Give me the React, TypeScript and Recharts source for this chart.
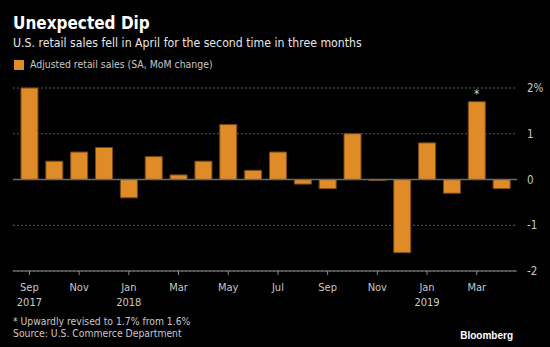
import React from 'react'
import {
  Bar,
  BarChart,
  CartesianGrid,
  LabelList,
  ReferenceLine,
  XAxis,
  YAxis,
} from 'recharts'

// monthly categories, Sep 2017 .. Apr 2019
const months = [
  'Sep', 'Oct', 'Nov', 'Dec', 'Jan', 'Feb', 'Mar', 'Apr', 'May', 'Jun',
  'Jul', 'Aug', 'Sep', 'Oct', 'Nov', 'Dec', 'Jan', 'Feb', 'Mar', 'Apr',
]
const years = [
  '2017', '', '', '', '2018', '', '', '', '', '',
  '', '', '', '', '', '', '2019', '', '', '',
]
// Adjusted retail sales (SA, MoM change), %
const salesChange = [
  2.0, 0.4, 0.6, 0.7, -0.4, 0.5, 0.1, 0.4, 1.2, 0.2,
  0.6, -0.1, -0.2, 1.0, -0.02, -1.6, 0.8, -0.3, 1.7, -0.2,
]
// footnote markers
const notes = ['', '', '', '', '', '', '', '', '', '', '', '', '', '', '', '', '', '', '*', '']
const yTicks = [-2, -1, 0, 1, 2]

const data = months.map((m, i) => ({
  key: `${m}-${i}`,
  month: m,
  year: years[i],
  value: salesChange[i],
  note: notes[i],
}))

const FONT = '"DejaVu Sans Condensed", "Liberation Sans", sans-serif'
const ORANGE = '#df8b27'
const GREY_TEXT = '#c8c8c8'

const MonthTick = (props: any) => {
  const { x, y, payload } = props
  const d = data[payload.index]
  return (
    <g>
      <text x={x} y={y} dy={14} textAnchor='middle' fill={GREY_TEXT} fontSize={11} fontFamily={FONT}>
        {d.month}
      </text>
      {d.year && (
        <text x={x} y={y} dy={29} textAnchor='middle' fill={GREY_TEXT} fontSize={11} fontFamily={FONT}>
          {d.year}
        </text>
      )}
    </g>
  )
}

const ValueTick = (props: any) => {
  const { x, y, payload } = props
  return (
    <text x={x} y={y} dy={4} textAnchor='start' fill={GREY_TEXT} fontSize={11.5} fontFamily={FONT}>
      {payload.value === 2 ? '2%' : payload.value}
    </text>
  )
}

const NoteLabel = (props: any) => {
  const { x, y, width, value } = props
  if (!value) return null
  return (
    <text x={x + width / 2} y={y - 4} textAnchor='middle' fill='#d0d0d0' fontSize={12} fontFamily={FONT}>
      {value}
    </text>
  )
}

const App = () => {
  return (
    <div
      style={{
        position: 'fixed',
        left: 0,
        top: 0,
        width: 550,
        height: 347,
        background: '#000',
        fontFamily: FONT,
        overflow: 'hidden',
      }}
    >
      <BarChart
        width={550}
        height={347}
        data={data}
        margin={{ top: 88, right: 0, left: 13, bottom: 36 }}
        barCategoryGap='16%'
      >
        <CartesianGrid vertical={false} stroke='#5a5a5a' strokeDasharray='2 2' />
        <XAxis
          dataKey='key'
          interval={1}
          height={40}
          tickSize={4}
          tickMargin={2}
          stroke='#8a8a8a'
          tick={<MonthTick />}
          padding={{ left: 4, right: 3 }}
        />
        <YAxis
          orientation='right'
          width={33}
          domain={[-2, 2]}
          ticks={yTicks}
          axisLine={false}
          tickLine={false}
          tickSize={0}
          tickMargin={10}
          tick={<ValueTick />}
        />
        <ReferenceLine y={0} stroke='#6a6a6a' strokeWidth={1.5} />
        <Bar dataKey='value' fill={ORANGE} stroke='#7c4a12' strokeWidth={1} isAnimationActive={false}>
          <LabelList dataKey='note' content={<NoteLabel />} />
        </Bar>
      </BarChart>

      <div style={{ position: 'absolute', left: 13, top: 13, color: '#fff', fontSize: 17, fontWeight: 'bold', fontFamily: FONT, lineHeight: '20px' }}>
        Unexpected Dip
      </div>
      <div style={{ position: 'absolute', left: 13, top: 35, color: '#e6e6e6', fontSize: 12.2, fontFamily: FONT, lineHeight: '16px' }}>
        U.S. retail sales fell in April for the second time in three months
      </div>
      <div style={{ position: 'absolute', left: 14, top: 60, width: 10, height: 10, background: ORANGE }} />
      <div style={{ position: 'absolute', left: 30, top: 57, color: GREY_TEXT, fontSize: 10.4, fontFamily: FONT, lineHeight: '14px' }}>
        Adjusted retail sales (SA, MoM change)
      </div>
      <div style={{ position: 'absolute', left: 13, top: 315, color: GREY_TEXT, fontSize: 10.3, fontFamily: FONT, lineHeight: '12px' }}>
        * Upwardly revised to 1.7% from 1.6%
        <br />
        Source: U.S. Commerce Department
      </div>
      <div style={{ position: 'absolute', right: 37, top: 330, color: '#fff', fontSize: 10, fontWeight: 'bold', fontFamily: '"Liberation Sans", sans-serif', lineHeight: '12px' }}>
        Bloomberg
      </div>
    </div>
  )
}

export default App
